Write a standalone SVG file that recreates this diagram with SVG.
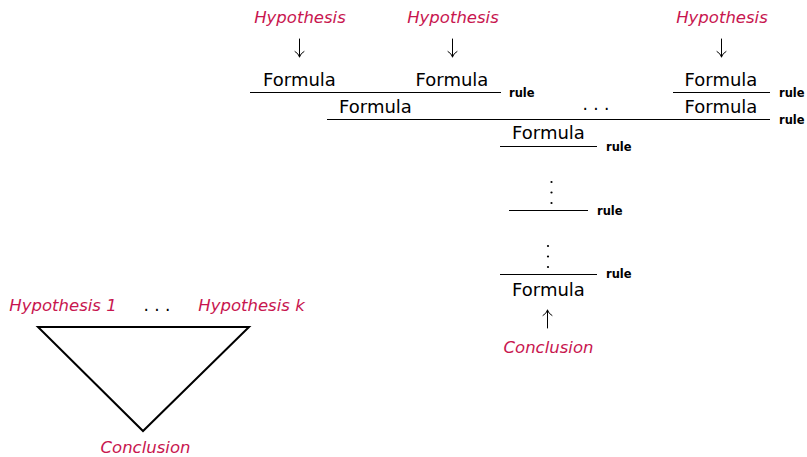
<svg xmlns="http://www.w3.org/2000/svg" width="807" height="457" viewBox="0 0 807 457">
<style>
text{font-family:"DejaVu Sans","Noto Sans",sans-serif;fill:#000}
.hyp{font-size:16.5px;font-style:italic;fill:#c8164f;text-anchor:middle}
.f{font-size:18px;text-anchor:middle}
.r{font-size:11.5px;font-weight:bold}
.dots{font-size:17px;text-anchor:middle}
.bar{stroke:#000;stroke-width:1;fill:none}
.arr{stroke:#000;stroke-width:1;fill:none;stroke-linecap:round}
</style>
<rect width="807" height="457" fill="#fff"/>
<g id="connectors">
<path class="arr" d="M299.5,39 V57 M295,51.5 Q298.5,53.5 299.5,57 Q300.5,53.5 304,51.5"/>
<path class="arr" d="M452.5,39 V57 M448,51.5 Q451.5,53.5 452.5,57 Q453.5,53.5 457,51.5"/>
<path class="arr" d="M721.5,39 V57 M717,51.5 Q720.5,53.5 721.5,57 Q722.5,53.5 726,51.5"/>
<path class="arr" d="M547.5,328 V310 M543,315.5 Q546.5,313.5 547.5,310 Q548.5,313.5 552,315.5"/>
</g>
<g id="tree">
<g id="hyp1"><text class="hyp" x="300" y="23">Hypothesis</text><text class="f" x="299.5" y="86">Formula</text></g>
<g id="hyp2"><text class="hyp" x="453" y="23">Hypothesis</text><text class="f" x="452" y="86">Formula</text></g>
<g id="hyp3"><text class="hyp" x="722" y="23">Hypothesis</text><text class="f" x="721" y="86">Formula</text></g>
<g id="step1"><line class="bar" x1="250" y1="92.5" x2="501" y2="92.5"/><text class="r" x="509" y="97">rule</text><text class="f" x="375.5" y="113">Formula</text></g>
<g id="step2"><line class="bar" x1="673" y1="92.5" x2="770" y2="92.5"/><text class="r" x="779" y="97">rule</text><text class="f" x="721" y="113">Formula</text></g>
<g id="hdots"><text class="dots" x="596" y="110">. . .</text></g>
<g id="step3"><line class="bar" x1="327" y1="119.5" x2="770" y2="119.5"/><text class="r" x="779" y="124">rule</text><text class="f" x="548.5" y="139">Formula</text></g>
<g id="step4"><line class="bar" x1="500" y1="146.5" x2="597" y2="146.5"/><text class="r" x="606" y="151">rule</text></g>
<g id="vdots1"><circle cx="551.5" cy="182" r="1.1"/><circle cx="551.5" cy="192.5" r="1.1"/><circle cx="551.5" cy="203" r="1.1"/></g>
<g id="step5"><line class="bar" x1="509" y1="210.5" x2="588" y2="210.5"/><text class="r" x="597" y="215">rule</text></g>
<g id="vdots2"><circle cx="548" cy="246" r="1.1"/><circle cx="548" cy="256.5" r="1.1"/><circle cx="548" cy="267" r="1.1"/></g>
<g id="step6"><line class="bar" x1="500" y1="274.5" x2="597" y2="274.5"/><text class="r" x="606" y="278">rule</text><text class="f" x="548.5" y="296">Formula</text></g>
<g id="concl"><text class="hyp" x="548.5" y="353">Conclusion</text></g>
</g>
<g id="triangle">
<text class="hyp" x="63" y="311">Hypothesis 1</text>
<text class="dots" x="157" y="311">. . .</text>
<text class="hyp" x="251.5" y="311">Hypothesis k</text>
<polygon points="38,327 249,327 143,431" fill="none" stroke="#000" stroke-width="2" stroke-linejoin="miter"/>
<text class="hyp" x="145.5" y="453">Conclusion</text>
</g>
</svg>
